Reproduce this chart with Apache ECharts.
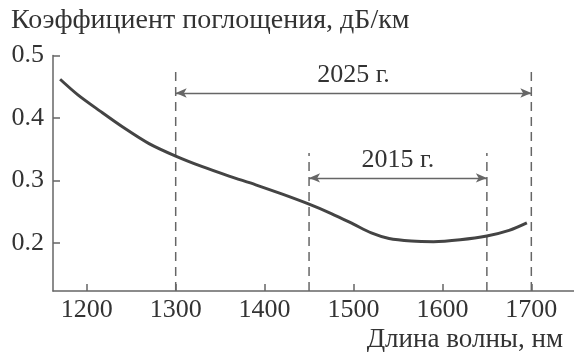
<!DOCTYPE html>
<html>
<head>
<meta charset="utf-8">
<script src="https://cdn.jsdelivr.net/npm/echarts@6/dist/echarts.min.js"></script>
<style>
  html, body { margin: 0; padding: 0; background: #fff; }
  #chart { width: 574px; height: 352px; }
</style>
</head>
<body>
<div id="chart"></div>
<script>
// Attenuation of optical fibre versus wavelength
const wavelengths = [1170, 1190, 1215, 1240, 1270, 1300, 1330, 1360, 1390, 1420, 1450, 1475, 1500, 1520, 1540, 1565, 1590, 1620, 1650, 1675, 1695];
const attenuation = [0.462, 0.437, 0.411, 0.386, 0.359, 0.339, 0.322, 0.307, 0.293, 0.278, 0.262, 0.247, 0.230, 0.216, 0.207, 0.203, 0.202, 0.205, 0.211, 0.220, 0.232];

const xTicks = [1200, 1300, 1400, 1500, 1600, 1700];
const yTicks = [0.2, 0.3, 0.4, 0.5];

// Transmission windows: [from, to] and their captions
const window2025 = [1300, 1700];
const window2015 = [1450, 1650];
const label2025 = '2025 г.';
const label2015 = '2015 г.';

const titleText = 'Коэффициент поглощения, дБ/км';
const xNameText = 'Длина волны, нм';

const serif = "'Liberation Serif', 'DejaVu Serif', serif";
const ink = '#333333';
const axisInk = '#666666';

const yMin = 0.123, yMax = 0.5;
const arrowY2025 = 0.44, arrowY2015 = 0.304;
const dashTop2025 = 0.48, dashTop2015 = 0.344;

function dashedVertical(x, top) {
  return {
    type: 'line',
    data: [[x, yMin], [x, top]],
    symbol: 'none',
    silent: true,
    lineStyle: { color: axisInk, width: 1.5, type: [9, 6] },
    z: 1
  };
}

function spanArrow(range, y, text) {
  return {
    type: 'line',
    data: [],
    silent: true,
    markLine: {
      silent: true,
      symbol: ['arrow', 'arrow'],
      symbolSize: [7, 11],
      animation: false,
      lineStyle: { color: axisInk, width: 1.3, type: 'solid' },
      label: {
        show: true,
        position: 'middle',
        formatter: text,
        fontFamily: serif,
        fontSize: 26,
        color: ink,
        backgroundColor: '#fff',
        padding: [0, 3]
      },
      data: [[{ coord: [range[0], y] }, { coord: [range[1], y] }]]
    }
  };
}

const chart = echarts.init(document.getElementById('chart'), null, { renderer: 'canvas' });
chart.setOption({
  animation: false,
  backgroundColor: '#fff',
  title: [
    { text: titleText, left: 6, top: 2, textStyle: { fontFamily: serif, fontSize: 28, fontWeight: 'normal', color: ink } },
    { text: xNameText, right: 6, top: 321, textStyle: { fontFamily: serif, fontSize: 27, fontWeight: 'normal', color: ink } }
  ],
  grid: { left: 53, right: 0, top: 55.5, bottom: 61, containLabel: false },
  xAxis: {
    type: 'value',
    min: 1162,
    max: 1748,
    axisLine: { show: true, onZero: false, lineStyle: { color: axisInk, width: 1.5 } },
    axisTick: { show: true, inside: true, length: 7, customValues: xTicks, lineStyle: { color: axisInk, width: 1.5 } },
    axisLabel: { customValues: xTicks, formatter: v => String(v), fontFamily: serif, fontSize: 26, color: ink, margin: 6 },
    splitLine: { show: false }
  },
  yAxis: {
    type: 'value',
    min: yMin,
    max: yMax,
    axisLine: { show: true, lineStyle: { color: axisInk, width: 1.5 } },
    axisTick: { show: true, inside: true, length: 7, customValues: yTicks, lineStyle: { color: axisInk, width: 1.5 } },
    axisLabel: { customValues: yTicks, formatter: v => v.toFixed(1), fontFamily: serif, fontSize: 26, color: ink, margin: 9 },
    splitLine: { show: false }
  },
  series: [
    dashedVertical(window2025[0], dashTop2025),
    dashedVertical(window2025[1], dashTop2025),
    dashedVertical(window2015[0], dashTop2015),
    dashedVertical(window2015[1], dashTop2015),
    spanArrow(window2025, arrowY2025, label2025),
    spanArrow(window2015, arrowY2015, label2015),
    {
      type: 'line',
      data: wavelengths.map((w, i) => [w, attenuation[i]]),
      smooth: 0.3,
      symbol: 'none',
      lineStyle: { color: '#444', width: 3 },
      z: 3
    }
  ]
});
</script>
</body>
</html>
